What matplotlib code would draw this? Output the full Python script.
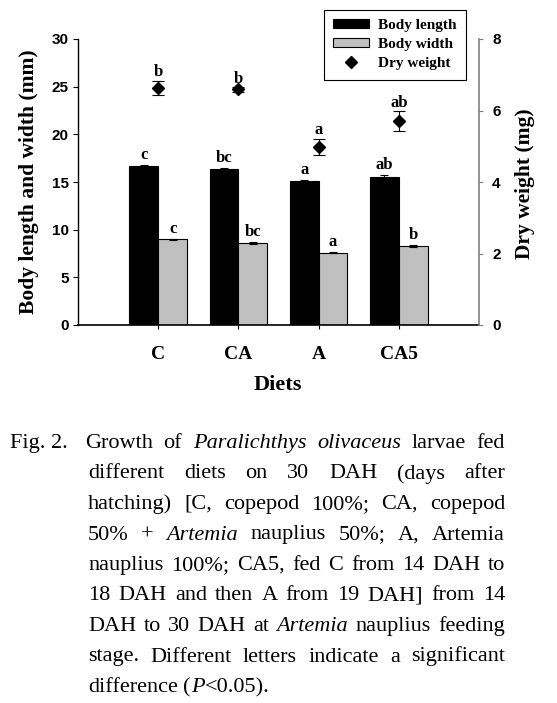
import matplotlib
matplotlib.use('Agg')
import matplotlib.pyplot as plt
from matplotlib.lines import Line2D
from matplotlib.patches import Patch
import numpy as np

# ---- data ----
diets = ['C', 'CA', 'A', 'CA5']
body_length = [16.7, 16.4, 15.1, 15.5]
body_length_err = [0.12, 0.06, 0.07, 0.25]
body_width = [9.0, 8.6, 7.6, 8.3]
body_width_err = [0.06, 0.1, 0.06, 0.1]
dry_weight = [6.62, 6.59, 4.98, 5.71]
dry_weight_err = [0.2, 0.06, 0.23, 0.27]
length_letters = ['c', 'bc', 'a', 'ab']
width_letters = ['c', 'bc', 'a', 'b']
weight_letters = ['b', 'b', 'a', 'ab']

SERIF = 'Liberation Serif'
SANS = 'Liberation Sans'
W, H = 557, 703

fig = plt.figure(figsize=(W / 100, H / 100), dpi=100)
ax = fig.add_axes([78 / W, 1 - 325 / H, 401 / W, 286 / H])
ax2 = ax.twinx()

x = np.arange(len(diets))
bw = 0.36
ax.bar(x - bw, body_length, width=bw, align='edge', color='black', edgecolor='black',
       linewidth=0.8, yerr=body_length_err, error_kw=dict(ecolor='black', elinewidth=0.8, capsize=3, capthick=0.8),
       zorder=2, label='Body length')
ax.bar(x, body_width, width=bw, align='edge', color='#c0c0c0', edgecolor='black',
       linewidth=0.8, yerr=body_width_err, error_kw=dict(ecolor='black', elinewidth=0.8, capsize=3, capthick=0.8),
       zorder=2, label='Body width')
ax2.errorbar(x, dry_weight, yerr=dry_weight_err, fmt='D', color='black', markersize=6,
             ecolor='black', elinewidth=0.8, capsize=4, capthick=0.8, label='Dry weight')

lf = dict(family=SERIF, weight='bold', size=12)
for i in range(len(diets)):
    ax.annotate(length_letters[i], (x[i] - bw / 2, body_length[i] + body_length_err[i]),
                xytext=(0, 1.5), textcoords='offset points', ha='center', va='bottom', **lf)
    ax.annotate(width_letters[i], (x[i] + bw / 2, body_width[i] + body_width_err[i]),
                xytext=(0, 1.5), textcoords='offset points', ha='center', va='bottom', **lf)
    ax2.annotate(weight_letters[i], (x[i], dry_weight[i] + dry_weight_err[i]),
                 xytext=(0, 0.5), textcoords='offset points', ha='center', va='bottom', **lf)

ax.set_xlim(-1, 4)
ax.set_ylim(0, 30)
ax2.set_ylim(0, 8)
ax.set_yticks([0, 5, 10, 15, 20, 25, 30])
ax2.set_yticks([0, 2, 4, 6, 8])
ax.set_xticks(x)
ax.set_xticklabels(diets, fontfamily=SERIF, fontweight='bold', fontsize=14)

for a in (ax, ax2):
    a.spines['top'].set_visible(False)
ax.spines['right'].set_visible(False)
ax2.spines['left'].set_visible(False)
ax2.spines['bottom'].set_visible(False)
ax2.spines['right'].set_color('#808080')
ax2.spines['right'].set_linewidth(1.2)
ax.spines['left'].set_linewidth(1.0)
ax.spines['bottom'].set_linewidth(1.2)

ax.tick_params(axis='y', direction='out', length=3.6, width=0.8, pad=3.2, labelsize=11)
ax.tick_params(axis='x', direction='out', length=3, width=0.8, pad=12)
ax2.tick_params(axis='y', direction='out', length=3, width=0.8, color='#808080', pad=6.5, labelsize=11)
for lab in ax.get_yticklabels() + ax2.get_yticklabels():
    lab.set_fontfamily(SANS)
    lab.set_fontweight('bold')

fig.text(29 / W, 1 - 182 / H, 'Body length and width (mm)', rotation=90, ha='center', va='center',
         family=SERIF, weight='bold', size=15.5)
fig.text(525 / W, 1 - 184 / H, 'Dry weight (mg)', rotation=90, ha='center', va='center',
         family=SERIF, weight='bold', size=15.5)
fig.text(278 / W, 1 - 385 / H, 'Diets', ha='center', va='center', family=SERIF, weight='bold', size=16)

handles = [Patch(facecolor='black', edgecolor='black', linewidth=0.8),
           Patch(facecolor='#c0c0c0', edgecolor='black', linewidth=0.8),
           Line2D([], [], marker='D', color='black', linestyle='none', markersize=6)]
leg = fig.legend(handles, ['Body length', 'Body width', 'Dry weight'], loc='upper right',
                 bbox_to_anchor=(466 / W, 1 - 10 / H), frameon=True, fancybox=False,
                 edgecolor='black', framealpha=1, prop=dict(family=SERIF, weight='bold', size=11),
                 handlelength=2.35, handleheight=0.55, handletextpad=0.6, labelspacing=0.4,
                 borderpad=0.6, borderaxespad=0)
leg.get_frame().set_linewidth(0.8)

# ---- caption (justified) ----
cap_lines = [
    "Growth of *Paralichthys* *olivaceus* larvae fed",
    "different diets on 30 DAH (days after",
    "hatching) [C, copepod 100%; CA, copepod",
    "50% + *Artemia* nauplius 50%; A, Artemia",
    "nauplius 100%; CA5, fed C from 14 DAH to",
    "18 DAH and then A from 19 DAH] from 14",
    "DAH to 30 DAH at *Artemia* nauplius feeding",
    "stage. Different letters indicate a significant",
    "difference (*P*<0.05).",
]
CAP_SIZE = 16
renderer = fig.canvas.get_renderer()


def segs_of(word):
    parts = word.split('*')
    out = []
    for k, p in enumerate(parts):
        if p:
            out.append((p, 'italic' if k % 2 == 1 else 'normal'))
    return out


def measure(s, style):
    t = fig.text(0, 0, s, family=SERIF, style=style, size=CAP_SIZE)
    w = t.get_window_extent(renderer).width
    t.remove()
    return w


fig.text(10 / W, 1 - 448 / H, 'Fig. 2.', family=SERIF, size=CAP_SIZE, va='baseline')
right_edge = 505
line_gap = 30.5
for li, line in enumerate(cap_lines):
    base = 448 + li * line_gap
    left = 85 if li == 0 else 88
    words = [segs_of(w) for w in line.split(' ')]
    widths = [[measure(s, st) for s, st in wd] for wd in words]
    total = sum(sum(ws) for ws in widths)
    if li < len(cap_lines) - 1 and len(words) > 1:
        gap = (right_edge - left - total) / (len(words) - 1)
    else:
        gap = measure(' ', 'normal')
    xpos = left
    for wd, ws in zip(words, widths):
        for (s, st), w in zip(wd, ws):
            fig.text(xpos / W, 1 - base / H, s, family=SERIF, style=st, size=CAP_SIZE, va='baseline')
            xpos += w
        xpos += gap

fig.savefig('out.png', dpi=100)
